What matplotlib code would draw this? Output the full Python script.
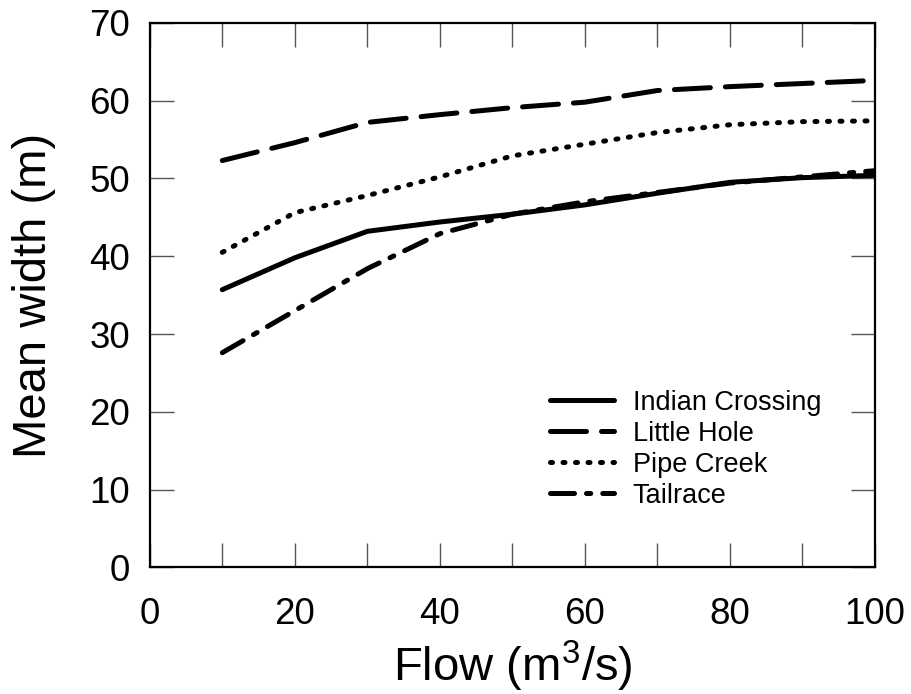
import matplotlib
matplotlib.use("Agg")
import matplotlib.pyplot as plt

plt.rcParams['font.family'] = ['Liberation Sans', 'DejaVu Sans']
plt.rcParams['mathtext.fontset'] = 'custom'
plt.rcParams['mathtext.rm'] = 'Liberation Sans'
plt.rcParams['mathtext.it'] = 'Liberation Sans'
plt.rcParams['mathtext.default'] = 'rm'

flow = [10, 20, 30, 40, 50, 60, 70, 80, 90, 100]
indian_crossing = [35.7, 39.8, 43.2, 44.4, 45.4, 46.6, 48.1, 49.5, 50.1, 50.4]
little_hole = [52.3, 54.6, 57.2, 58.2, 59.1, 59.8, 61.3, 61.8, 62.2, 62.6]
pipe_creek = [40.5, 45.6, 47.8, 50.2, 52.9, 54.4, 55.9, 56.9, 57.3, 57.4]
tailrace = [27.6, 33.0, 38.4, 42.9, 45.4, 47.0, 48.2, 49.4, 50.2, 51.0]

xticks = [0, 10, 20, 30, 40, 50, 60, 70, 80, 90, 100]
xticklabels = ['0', '', '20', '', '40', '', '60', '', '80', '', '100']
yticks = [0, 10, 20, 30, 40, 50, 60, 70]

fig = plt.figure(figsize=(9.11, 6.94), dpi=100)
ax = fig.add_axes([0.1644, 0.1824, 0.7961, 0.7847])

lw = 3.6
ax.plot(flow, indian_crossing, color='black', lw=lw, solid_capstyle='round',
        label='Indian Crossing')
ax.plot(flow, little_hole, color='black', lw=lw, dash_capstyle='round',
        linestyle=(0, (7.2, 3.0)), label='Little Hole')
ax.plot(flow, pipe_creek, color='black', lw=lw, dash_capstyle='round',
        linestyle=(0, (0.4, 2.1)), label='Pipe Creek')
ax.plot(flow, tailrace, color='black', lw=lw, dash_capstyle='round',
        linestyle=(0, (4.8, 2.4, 0.85, 2.4)), label='Tailrace')

ax.set_xlim(0, 100)
ax.set_ylim(0, 70)
ax.set_xticks(xticks)
ax.set_xticklabels(xticklabels)
ax.set_yticks(yticks)

for s in ax.spines.values():
    s.set_linewidth(1.6)
    s.set_color('black')

ax.tick_params(axis='both', which='major', direction='in', length=17,
               width=1.0, color='#555555', labelsize=26.5,
               top=True, right=True)
ax.tick_params(axis='x', pad=21)
ax.tick_params(axis='y', pad=14)

ax.set_xlabel('Flow (m$^{3}$/s)', fontsize=34, labelpad=5)
ax.set_ylabel('Mean width (m)', fontsize=34, labelpad=24)

ax.legend(loc='center left', bbox_to_anchor=(0.552, 0.217), frameon=False,
          fontsize=19.5, handlelength=2.35, handletextpad=0.7, labelspacing=0.18,
          borderpad=0, borderaxespad=0)

fig.savefig('out.png', dpi=100)
